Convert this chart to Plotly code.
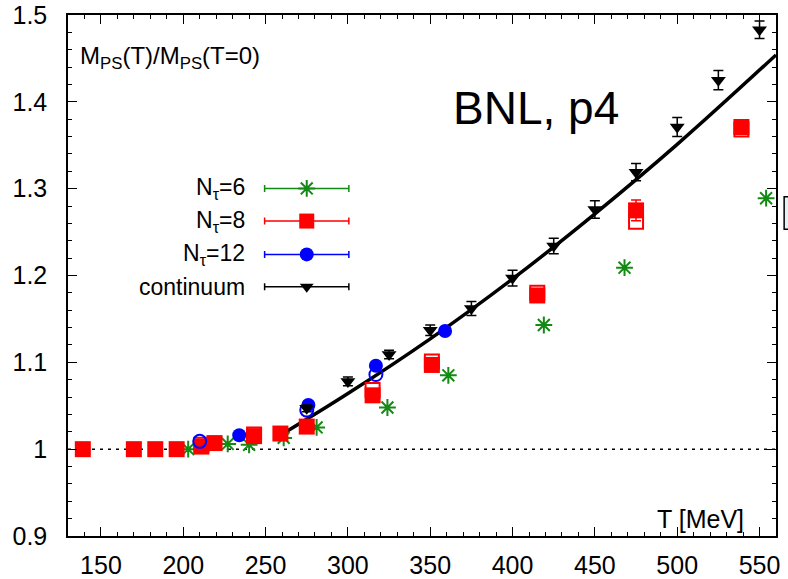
import plotly.graph_objects as go

# ---- data -------------------------------------------------------------
# N_tau = 6 (green stars)
nt6_T = [203, 227, 240, 261, 281, 324, 361, 419, 468, 554]
nt6_v = [1.000, 1.006, 1.005, 1.013, 1.025, 1.048, 1.085, 1.143, 1.209, 1.289]

# N_tau = 8 (red squares), filled and open
nt8_T = [139, 170, 183, 196, 211, 219, 243, 259, 275, 315, 351, 415, 475, 539]
nt8_v = [1.000, 1.000, 1.000, 1.000, 1.003, 1.007, 1.015, 1.018, 1.026,
         1.062, 1.097, 1.177, 1.275, 1.371]
nt8_err = [0.002, 0.002, 0.002, 0.002, 0.002, 0.002, 0.002, 0.002, 0.002,
           0.003, 0.003, 0.004, 0.012, 0.004]
nt8o_T = [211, 243, 315, 351, 415, 475, 539]
nt8o_v = [1.005, 1.017, 1.068, 1.101, 1.180, 1.262, 1.368]

# N_tau = 12 (blue circles), filled and open
nt12_T = [234, 276, 317, 359]
nt12_v = [1.016, 1.051, 1.096, 1.136]
nt12o_T = [210, 275, 317]
nt12o_v = [1.009, 1.045, 1.086]

# continuum extrapolation (black triangles)
cont_T = [275, 300, 325, 350, 375, 400, 425, 450, 475, 500, 525, 550]
cont_v = [1.047, 1.078, 1.109, 1.137, 1.162, 1.197, 1.234, 1.276, 1.319,
          1.371, 1.425, 1.483]
cont_err = [0.004, 0.005, 0.005, 0.006, 0.008, 0.009, 0.009, 0.010, 0.010,
            0.011, 0.011, 0.010]

# fit curve through the continuum points
fit_T = [259, 300, 350, 400, 450, 500, 560]
fit_v = [1.016, 1.064, 1.127, 1.196, 1.271, 1.351, 1.454]

# reference level
ref_T = [130, 560]
ref_v = [1.0, 1.0]

legend_labels = ["N<sub>τ</sub>=6", "N<sub>τ</sub>=8", "N<sub>τ</sub>=12", "continuum"]
legend_colors = ["#138a13", "#ff0000", "#0000ff", "#000000"]
legend_symbols = ["asterisk-open", "square", "circle", "triangle-down"]

FONT = "Liberation Sans, Arial, Helvetica, sans-serif"
GREEN, RED, BLUE, BLACK = legend_colors

fig = go.Figure()

fig.add_trace(go.Scatter(x=ref_T, y=ref_v, mode="lines",
                         line=dict(color=BLACK, width=1.5, dash="3px,5px"),
                         showlegend=False, hoverinfo="skip"))

fig.add_trace(go.Scatter(x=fit_T, y=fit_v, mode="lines", line_shape="spline",
                         line=dict(color=BLACK, width=3.5), showlegend=False))

fig.add_trace(go.Scatter(x=nt6_T, y=nt6_v, mode="markers",
                         marker=dict(symbol="asterisk-open", size=14, color=GREEN,
                                     line=dict(color=GREEN, width=2)),
                         showlegend=False))

fig.add_trace(go.Scatter(x=nt8o_T, y=nt8o_v, mode="markers",
                         marker=dict(symbol="square-open", size=14, color=RED,
                                     line=dict(color=RED, width=2)),
                         showlegend=False))
fig.add_trace(go.Scatter(x=nt8_T, y=nt8_v, mode="markers",
                         error_y=dict(type="data", array=nt8_err, color=RED,
                                      thickness=1.5, width=5),
                         marker=dict(symbol="square", size=16, color=RED),
                         showlegend=False))

fig.add_trace(go.Scatter(x=nt12o_T, y=nt12o_v, mode="markers",
                         marker=dict(symbol="circle-open", size=13, color=BLUE,
                                     line=dict(color=BLUE, width=2)),
                         showlegend=False))
fig.add_trace(go.Scatter(x=nt12_T, y=nt12_v, mode="markers",
                         marker=dict(symbol="circle", size=14, color=BLUE),
                         showlegend=False))

fig.add_trace(go.Scatter(x=cont_T, y=cont_v, mode="markers",
                         error_y=dict(type="data", array=cont_err, color=BLACK,
                                      thickness=1.5, width=5),
                         marker=dict(symbol="triangle-down", size=13, color=BLACK),
                         showlegend=False))

# hand-drawn key: label on the left, sample with horizontal error bar on the right
key_x = 0.3372
key_half = 0.0595
key_rows = [0.6672, 0.6045, 0.5405, 0.4785]
for lab, col, sym, ky in zip(legend_labels, legend_colors, legend_symbols, key_rows):
    if sym == "asterisk-open":
        mk = dict(symbol=sym, size=14, color=col, line=dict(color=col, width=2))
    elif sym == "triangle-down":
        mk = dict(symbol=sym, size=12, color=col)
    elif sym == "square":
        mk = dict(symbol=sym, size=15, color=col)
    else:
        mk = dict(symbol=sym, size=14, color=col)
    fig.add_trace(go.Scatter(x=[key_x], y=[ky], xaxis="x2", yaxis="y2",
                             mode="markers", marker=mk, showlegend=False,
                             error_x=dict(type="constant", value=key_half,
                                          color=col, thickness=1.5, width=3.5),
                             hoverinfo="skip"))
    fig.add_annotation(x=0.2524, y=ky, xref="paper", yref="paper",
                       text=lab, showarrow=False, xanchor="right", yanchor="middle",
                       font=dict(family=FONT, size=23, color=BLACK))

fig.add_annotation(x=0.014, y=0.918, xref="paper", yref="paper",
                   text="M<sub>PS</sub>(T)/M<sub>PS</sub>(T=0)", showarrow=False,
                   xanchor="left", yanchor="middle",
                   font=dict(family=FONT, size=24, color=BLACK))
fig.add_annotation(x=0.661, y=0.822, xref="paper", yref="paper",
                   text="BNL, p4", showarrow=False, xanchor="center", yanchor="middle",
                   font=dict(family=FONT, size=46, color=BLACK))
fig.add_annotation(x=0.957, y=0.032, xref="paper", yref="paper",
                   text="T [MeV]", showarrow=False, xanchor="right", yanchor="middle",
                   font=dict(family=FONT, size=25, color=BLACK))

# small box cut off at the right edge
fig.add_shape(type="rect", xref="paper", yref="paper",
              x0=1.0115, x1=1.03, y0=0.589, y1=0.651,
              line=dict(color=BLACK, width=1.5), fillcolor="#e4f4f6")

axis_common = dict(showline=True, linecolor=BLACK, linewidth=1.5, mirror="allticks",
                   ticks="inside", ticklen=9, tickwidth=1.2, tickcolor=BLACK,
                   showgrid=False, zeroline=False, automargin=False,
                   tickfont=dict(family=FONT, size=25, color=BLACK))

fig.update_layout(
    width=788, height=579,
    margin=dict(l=68, r=12, t=15, b=43, autoexpand=False),
    paper_bgcolor="white", plot_bgcolor="white",
    xaxis=dict(range=[130, 560], tick0=150, dtick=50,
               minor=dict(ticks="inside", dtick=10, ticklen=4, tickcolor=BLACK,
                          tickwidth=1.2),
               ticklabelstandoff=6, **axis_common),
    yaxis=dict(range=[0.9, 1.5],
               tickvals=[0.9, 1.0, 1.1, 1.2, 1.3, 1.4, 1.5],
               ticktext=["0.9", "1", "1.1", "1.2", "1.3", "1.4", "1.5"],
               minor=dict(ticks="inside", dtick=0.02, ticklen=4, tickcolor=BLACK,
                          tickwidth=1.2),
               ticklabelstandoff=14, **axis_common),
    xaxis2=dict(range=[0, 1], overlaying="x", visible=False, fixedrange=True),
    yaxis2=dict(range=[0, 1], overlaying="y", visible=False, fixedrange=True),
    showlegend=False,
)

fig.write_html("out.html")
